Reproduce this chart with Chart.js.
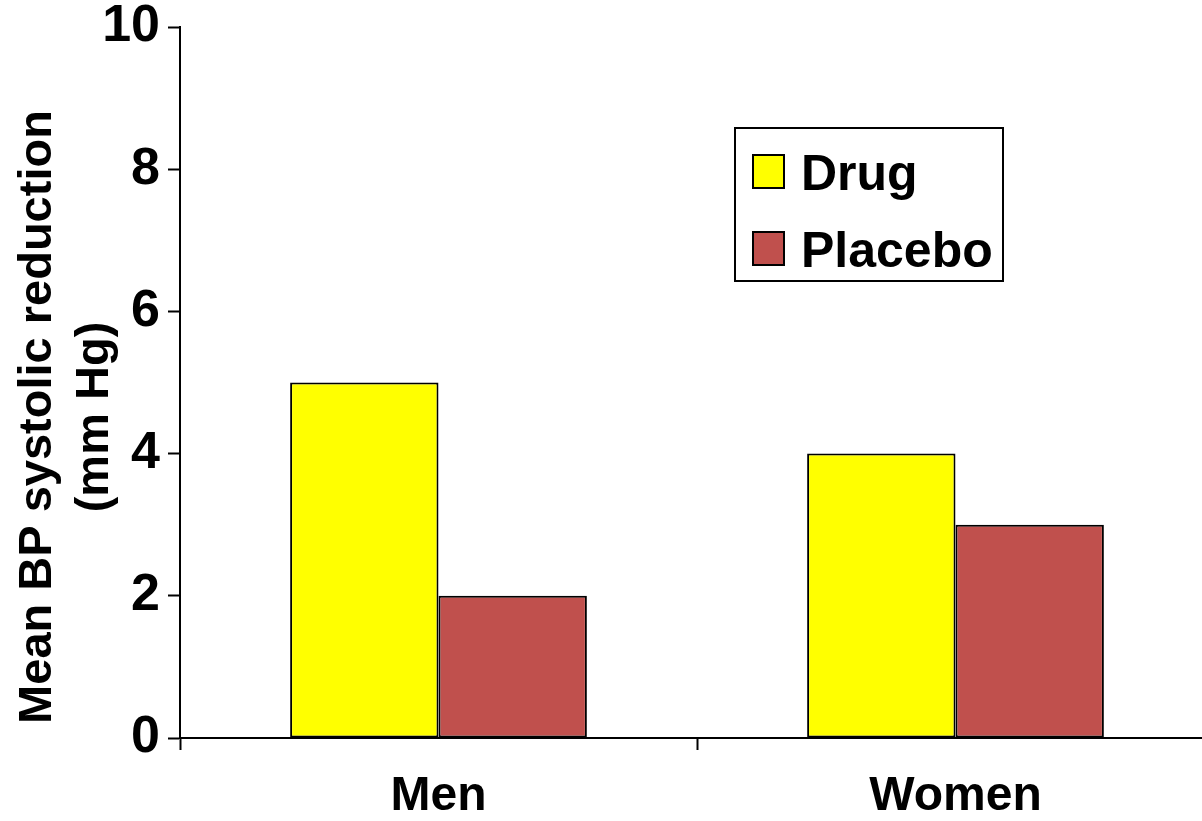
<!DOCTYPE html>
<html>
<head>
<meta charset="utf-8">
<title>Mean BP systolic reduction</title>
<script src="https://cdn.jsdelivr.net/npm/chart.js@4.4.1/dist/chart.umd.min.js"></script>
<style>
  html, body { margin: 0; padding: 0; background: #fff; overflow: hidden; }
  #wrap { position: relative; width: 1216px; height: 821px; }
</style>
</head>
<body>
<div id="wrap"><canvas id="bpChart"></canvas></div>
<script>
const groups = ['Men', 'Women'];
const drugValues = [5, 4];
const placeboValues = [2, 3];
const yTicks = [0, 2, 4, 6, 8, 10];
const yTitleLines = ['Mean BP systolic reduction', '(mm Hg)'];

const FONT = "'Liberation Sans', Arial, Helvetica, sans-serif";

// rotated two-line title to the left of the y axis
const yTitlePlugin = {
    id: 'yTitle',
    afterDraw(chart) {
        const ctx = chart.ctx;
        ctx.save();
        ctx.translate(51, 417);
        ctx.rotate(-Math.PI / 2);
        ctx.font = 'bold 47px ' + FONT;
        ctx.fillStyle = '#000';
        ctx.textAlign = 'center';
        ctx.textBaseline = 'alphabetic';
        yTitleLines.forEach((line, i) => ctx.fillText(line, 0, i * 57));
        ctx.restore();
    }
};

// boxed legend sitting inside the plot
const boxLegendPlugin = {
    id: 'boxLegend',
    afterDraw(chart) {
        const ctx = chart.ctx;
        ctx.save();
        ctx.lineWidth = 2;
        ctx.strokeStyle = '#000';
        ctx.fillStyle = '#fff';
        ctx.fillRect(735, 128, 268, 153);
        ctx.strokeRect(735, 128, 268, 153);
        ctx.font = 'bold 50px ' + FONT;
        ctx.textAlign = 'left';
        ctx.textBaseline = 'alphabetic';
        chart.data.datasets.forEach((ds, i) => {
            const y = 155 + i * 77;
            ctx.fillStyle = ds.backgroundColor;
            ctx.fillRect(753, y, 31, 33);
            ctx.strokeRect(753, y, 31, 33);
            ctx.fillStyle = '#000';
            ctx.fillText(ds.label, 801, y + 35);
        });
        ctx.restore();
    }
};

const ctx = document.getElementById('bpChart').getContext('2d');
new Chart(ctx, {
    type: 'bar',
    data: {
        labels: groups,
        datasets: [
            {
                label: 'Drug',
                data: drugValues,
                backgroundColor: '#FFFF00',
                borderColor: '#000',
                borderWidth: 2,
                borderSkipped: false
            },
            {
                label: 'Placebo',
                data: placeboValues,
                backgroundColor: '#C0504D',
                borderColor: '#000',
                borderWidth: 2,
                borderSkipped: false
            }
        ]
    },
    options: {
        responsive: true,
        maintainAspectRatio: false,
        animation: false,
        categoryPercentage: 0.574,
        barPercentage: 1,
        layout: {
            padding: { top: 27, right: 2, bottom: 0, left: 0 }
        },
        plugins: {
            legend: { display: false },
            tooltip: { enabled: true }
        },
        scales: {
            x: {
                border: { display: true, color: '#000', width: 2 },
                grid: {
                    display: true,
                    drawOnChartArea: false,
                    offset: true,
                    tickLength: 12,
                    tickWidth: 2,
                    tickColor: '#000'
                },
                ticks: {
                    color: '#000',
                    padding: 18,
                    maxRotation: 0,
                    font: { family: FONT, size: 48, weight: 'bold' }
                },
                afterFit: function(scale) {
                    scale.height = 83;
                }
            },
            y: {
                min: 0,
                max: 10,
                border: { display: true, color: '#000', width: 2 },
                grid: {
                    display: true,
                    drawOnChartArea: false,
                    tickLength: 12,
                    tickWidth: 2,
                    tickColor: '#000'
                },
                ticks: {
                    color: '#000',
                    padding: 8,
                    font: { family: FONT, size: 52, weight: 'bold', lineHeight: 1 }
                },
                afterBuildTicks: function(scale) {
                    scale.ticks = yTicks.map(v => ({ value: v }));
                },
                afterFit: function(scale) {
                    scale.width = 180;
                    // layout padding already leaves room for the end labels
                    scale.paddingTop = 0;
                    scale.paddingBottom = 0;
                }
            }
        }
    },
    plugins: [yTitlePlugin, boxLegendPlugin]
});
</script>
</body>
</html>
